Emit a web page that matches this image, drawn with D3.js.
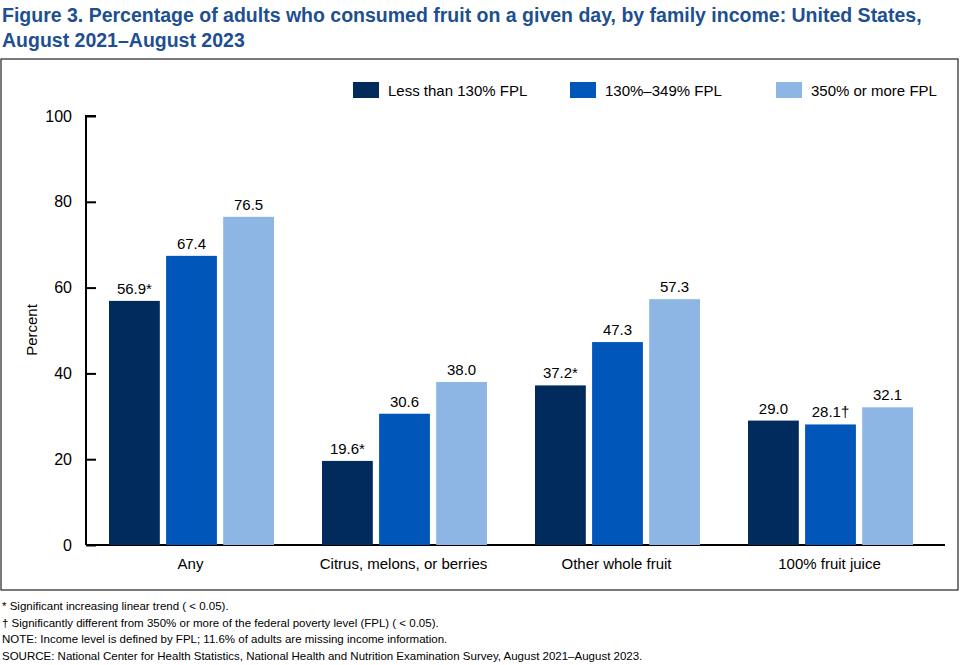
<!DOCTYPE html>
<html>
<head>
<meta charset="utf-8">
<script src="https://cdn.jsdelivr.net/npm/d3@7"></script>
<style>
  body { margin: 0; background: #fff; font-family: Arial, "Liberation Sans", sans-serif; }
</style>
</head>
<body>
<svg id="chart" width="960" height="665"></svg>
<script>
(function() {
  'use strict';

  var categories = ['Any', 'Citrus, melons, or berries', 'Other whole fruit', '100% fruit juice'];
  var seriesNames = ['Less than 130% FPL', '130%\u2013349% FPL', '350% or more FPL'];
  var seriesColors = ['#002b5c', '#0157b9', '#8db6e4'];
  var lowIncome = [56.9, 19.6, 37.2, 29.0];
  var midIncome = [67.4, 30.6, 47.3, 28.1];
  var highIncome = [76.5, 38.0, 57.3, 32.1];
  var lowMarks = ['*', '*', '*', ''];
  var midMarks = ['', '', '', '\u2020'];
  var highMarks = ['', '', '', ''];
  var yTicks = [0, 20, 40, 60, 80, 100];
  var notes = [
    '* Significant increasing linear trend (<i>p</i> < 0.05).',
    '\u2020 Significantly different from 350% or more of the federal poverty level (FPL) (<i>p</i> < 0.05).',
    'NOTE: Income level is defined by FPL; 11.6% of adults are missing income information.',
    'SOURCE: National Center for Health Statistics, National Health and Nutrition Examination Survey, August 2021\u2013August 2023.'
  ];

  var series = [lowIncome, midIncome, highIncome];
  var marks = [lowMarks, midMarks, highMarks];
  var svg = d3.select('#chart');

  svg.append('text').attr('x', 2).attr('y', 22)
    .attr('fill', '#1d4f91').attr('font-size', 19.5).attr('font-weight', 'bold')
    .text('Figure 3. Percentage of adults who consumed fruit on a given day, by family income: United States,');
  svg.append('text').attr('x', 2).attr('y', 47)
    .attr('fill', '#1d4f91').attr('font-size', 19.5).attr('font-weight', 'bold')
    .text('August 2021\u2013August 2023');

  svg.append('rect').attr('x', 1).attr('y', 59).attr('width', 957).attr('height', 531)
    .attr('fill', 'none').attr('stroke', '#222').attr('stroke-width', 1.2);

  var x = d3.scaleBand().domain(categories).range([84, 936]);
  var x1 = d3.scaleBand().domain(d3.range(3)).range([25, 190]).paddingInner(0.11);
  var y = d3.scaleLinear().domain([0, 100]).range([545, 116]);

  var yAxis = svg.append('g').attr('transform', 'translate(86,0)')
    .call(d3.axisRight(y).tickValues(yTicks).tickSize(10).tickFormat(d3.format('d')));
  yAxis.select('.domain').attr('d', 'M10,116H0V545');
  yAxis.selectAll('line, path').attr('stroke', '#000').attr('stroke-width', 2);
  yAxis.selectAll('text').attr('x', -14).attr('text-anchor', 'end')
    .attr('font-size', 16).attr('fill', '#000').attr('font-family', 'Arial, "Liberation Sans", sans-serif');

  svg.append('line').attr('x1', 86).attr('x2', 945).attr('y1', 545).attr('y2', 545)
    .attr('stroke', '#000').attr('stroke-width', 2);

  svg.append('text').attr('transform', 'translate(37,330) rotate(-90)')
    .attr('text-anchor', 'middle').attr('font-size', 15).text('Percent');

  series.forEach(function(vals, s) {
    var g = svg.append('g');
    g.selectAll('rect').data(vals).enter().append('rect')
      .attr('x', function(d, i) { return x(categories[i]) + x1(s); })
      .attr('y', function(d) { return y(d); })
      .attr('width', x1.bandwidth())
      .attr('height', function(d) { return y(0) - y(d); })
      .attr('fill', seriesColors[s]);
    g.selectAll('text').data(vals).enter().append('text')
      .attr('x', function(d, i) { return x(categories[i]) + x1(s) + x1.bandwidth() / 2; })
      .attr('y', function(d) { return y(d) - 7; })
      .attr('text-anchor', 'middle').attr('font-size', 15)
      .text(function(d, i) { return d.toFixed(1) + marks[s][i]; });
  });

  svg.selectAll('.cat').data(categories).enter().append('text')
    .attr('x', function(d) { return x(d) + x.bandwidth() / 2; })
    .attr('y', 569).attr('text-anchor', 'middle').attr('font-size', 15)
    .text(function(d) { return d; });

  var legendX = [353, 570, 776];
  seriesNames.forEach(function(n, i) {
    svg.append('rect').attr('x', legendX[i]).attr('y', 82).attr('width', 26).attr('height', 16)
      .attr('fill', seriesColors[i]);
    svg.append('text').attr('x', legendX[i] + 35).attr('y', 96).attr('font-size', 15).text(n);
  });

  notes.forEach(function(n, i) {
    svg.append('text').attr('x', 2).attr('y', 610 + i * 16.5).attr('font-size', 11.5)
      .html(n);
  });
})();
</script>
</body>
</html>
